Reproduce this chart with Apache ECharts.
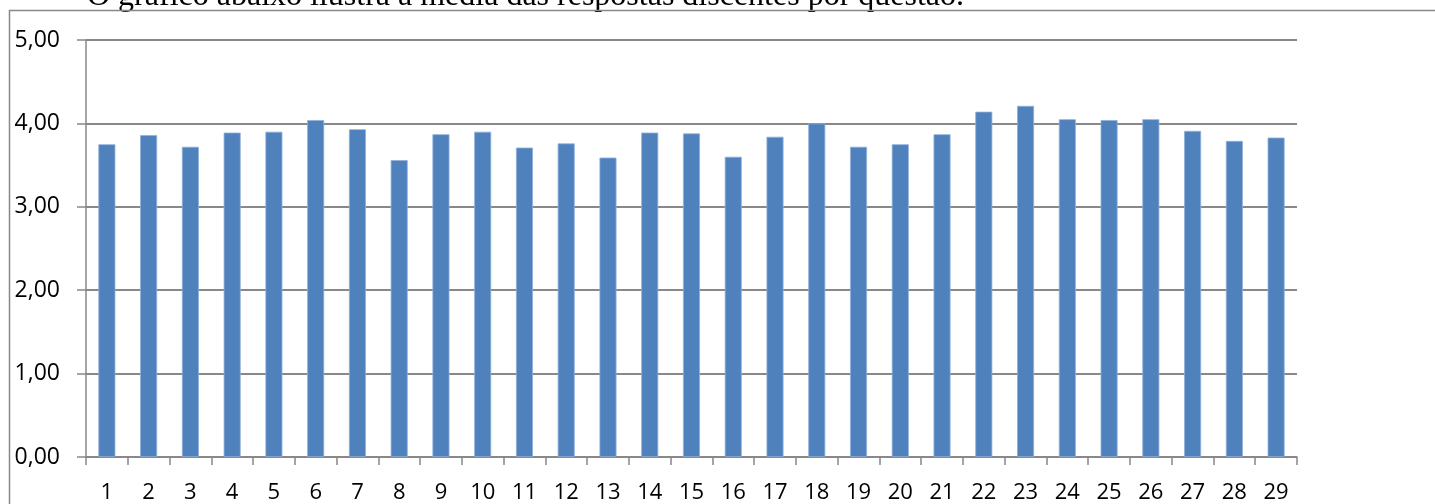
<!DOCTYPE html>
<html>
<head>
<meta charset="utf-8">
<script src="https://cdn.jsdelivr.net/npm/echarts@6/dist/echarts.min.js"></script>
<style>
  html, body { margin: 0; padding: 0; background: #fff; }
  #chart { width: 1435px; height: 504px; }
</style>
</head>
<body>
<div id="chart"></div>
<script>
// media por questao
const questions = ['1','2','3','4','5','6','7','8','9','10','11','12','13','14','15',
  '16','17','18','19','20','21','22','23','24','25','26','27','28','29'];
const means = [3.75, 3.86, 3.72, 3.89, 3.90, 4.04, 3.93, 3.56, 3.87, 3.90,
  3.71, 3.76, 3.59, 3.89, 3.88, 3.60, 3.84, 4.00, 3.72, 3.75,
  3.87, 4.14, 4.21, 4.05, 4.04, 4.05, 3.91, 3.79, 3.83];
const yTicks = [0, 1, 2, 3, 4, 5];
const caption = 'O gráfico abaixo ilustra a média das respostas discentes por questão.';

const gray = '#888888';
const chart = echarts.init(document.getElementById('chart'));

chart.setOption({
  animation: false,
  backgroundColor: '#fff',
  textStyle: { fontFamily: 'Open Sans' },
  grid: { left: 86, right: 138, top: 40, bottom: 46.5, containLabel: false },
  graphic: [
    {
      type: 'text',
      left: 87, top: -19,
      style: { text: caption, font: '32px "Liberation Serif"', fill: '#000' },
      silent: true
    },
    {
      // moldura da figura
      type: 'polyline',
      shape: { points: [[9.5, 510], [9.5, 10.5], [1440, 10.5]] },
      style: { stroke: gray, lineWidth: 1.5, fill: null },
      silent: true
    }
  ],
  xAxis: {
    type: 'category',
    data: questions,
    axisLine: { lineStyle: { color: gray, width: 1.5 } },
    axisTick: { show: true, interval: 0, length: 8, lineStyle: { color: gray, width: 1.5 } },
    axisLabel: { interval: 0, color: '#000', fontSize: 22, margin: 25 }
  },
  yAxis: {
    type: 'value',
    min: yTicks[0],
    max: yTicks[yTicks.length - 1],
    interval: 1,
    axisLine: { show: true, lineStyle: { color: gray, width: 1.5 } },
    axisTick: { show: true, length: 9, lineStyle: { color: gray, width: 1.5 } },
    axisLabel: {
      color: '#000', fontSize: 23, margin: 26,
      formatter: v => v.toFixed(2).replace('.', ',')
    },
    splitLine: { lineStyle: { color: gray, width: 2 } }
  },
  series: [{
    type: 'bar',
    data: means,
    barWidth: 17,
    itemStyle: { color: '#4f81bd', borderColor: '#8fb0da', borderWidth: 0.8 }
  }]
});
</script>
</body>
</html>
